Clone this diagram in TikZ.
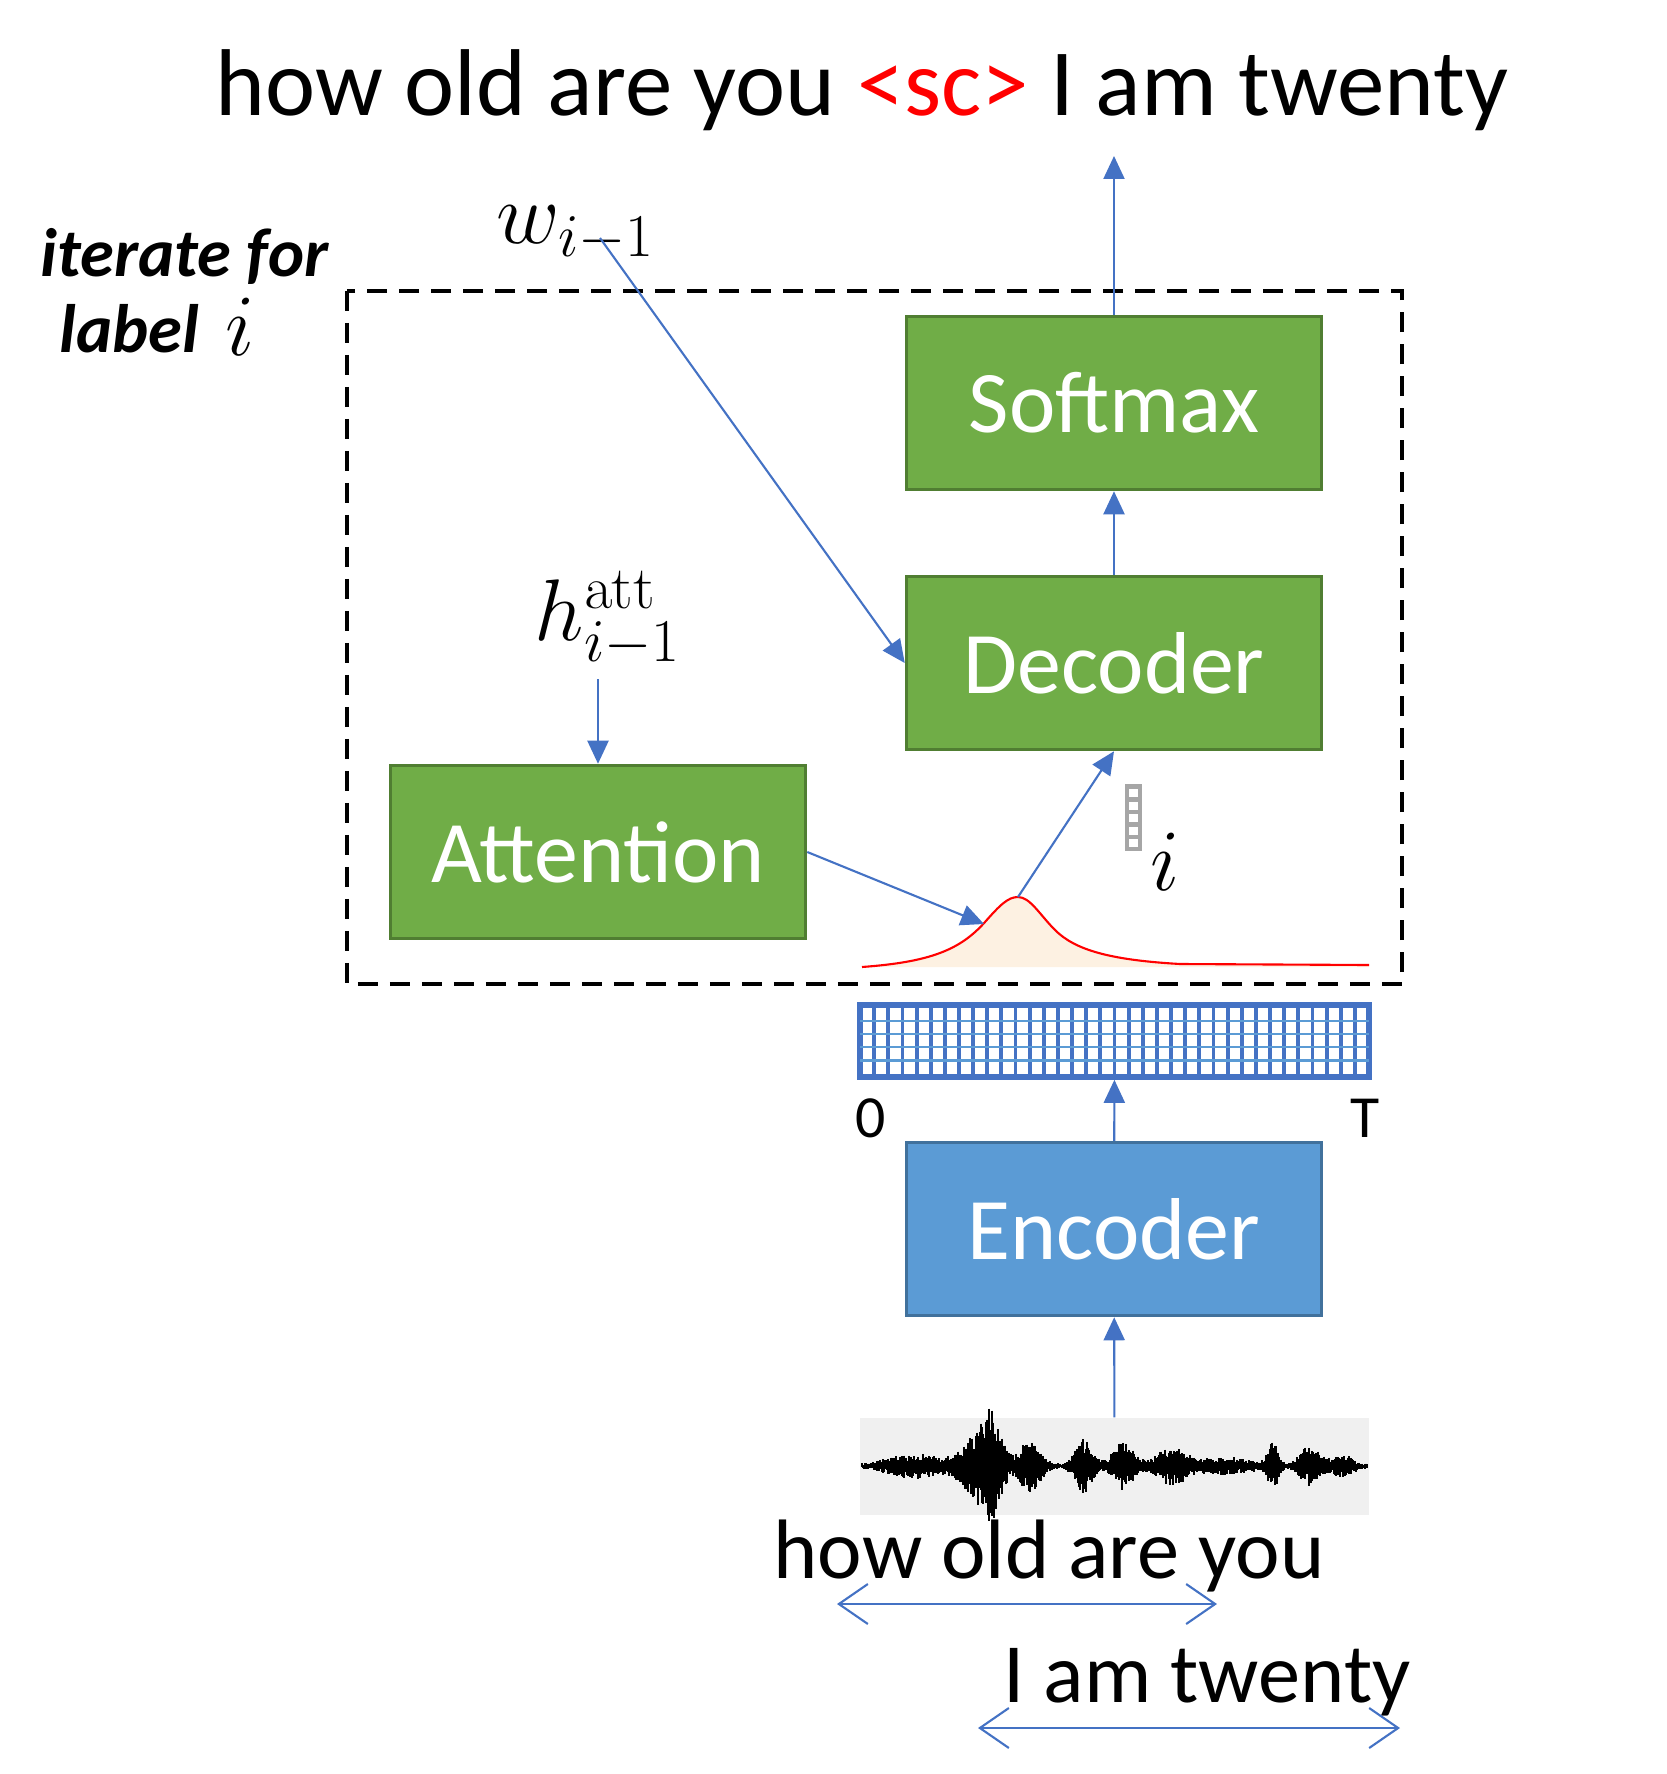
\documentclass[tikz,border=0pt]{standalone}
\usepackage[no-math]{fontspec}
\setmainfont{Carlito}
\usetikzlibrary{arrows.meta}
\definecolor{boxgreen}{HTML}{70AD47}
\definecolor{boxgreenline}{HTML}{507E32}
\definecolor{boxblue}{HTML}{5B9BD5}
\definecolor{boxblueline}{HTML}{41719C}
\definecolor{flowblue}{HTML}{4472C4}
\definecolor{peach}{HTML}{FDF1E2}
\definecolor{wavebg}{HTML}{F0F0F0}
\begin{document}
\begin{tikzpicture}[x=0.1mm,y=-0.1mm,
  greenbox/.style={draw=boxgreenline, fill=boxgreen, line width=1pt, minimum width=41.5mm, minimum height=17.3mm, text=white, font=\fontsize{25}{30}\selectfont},
  bluebox/.style={greenbox, draw=boxblueline, fill=boxblue},
  flow/.style={draw=flowblue, line width=0.6pt, -{Triangle[length=2.3mm,width=2.1mm]}},
  span/.style={draw=flowblue, line width=0.6pt, {Straight Barb[length=2.9mm,width=4mm]}-{Straight Barb[length=2.9mm,width=4mm]}},
  mathlab/.style={font=\fontsize{24}{28}\selectfont},
  bigtext/.style={font=\fontsize{24}{28}\selectfont},
  looplab/.style={anchor=base west, inner sep=0pt, font=\fontsize{19.5}{23}\selectfont\bfseries\itshape}]
\useasboundingbox (0,0) rectangle (1666,1774);

\node[anchor=base, font=\fontsize{27}{31}\selectfont] (title) at (862,116) {how old are you \textcolor{red}{<sc>} I am twenty};

\node[looplab] (iter) at (40,277) {iterate for};
\node[looplab] (lab) at (59,353) {label};
\node[anchor=base, inner sep=0pt, font=\fontsize{26}{30}\selectfont] (ilab) at (240,356) {$i$};

\draw[line width=1.1pt, dash pattern=on 2mm off 1.2mm] (347,291) rectangle (1402,984);

\node[greenbox] (softmax) at (1114,403) {Softmax};
\node[greenbox] (decoder) at (1114,663) {Decoder};
\node[greenbox] (attention) at (598,852) {Attention};
\node[bluebox] (encoder) at (1114,1229) {Encoder};

\coordinate (out) at (1114,156);
\draw[flow] (softmax.north) -- (out);
\draw[flow] (decoder) -- (softmax);

\node[mathlab] (wlab) at (576,234) {$w_{i-1}$};
\coordinate (wstart) at (600,238);
\draw[flow] (wstart) -- (decoder.west);

\node[mathlab, font=\fontsize{25}{29}\selectfont] (hatt) at (608,619) {$h^{\mathrm{att}}_{i-1}$};
\draw[flow] (hatt.south -| attention.north) -- (attention.north);

\fill[peach] (862,967) .. controls (930,962) and (960,950) .. (985,922) .. controls (1000,905) and (1008,897) .. (1018,897) .. controls (1030,897) and (1040,915) .. (1055,930) .. controls (1075,950) and (1110,960) .. (1180,964) -- (1369,965) -- (1369,967) -- cycle;
\draw[red, line width=0.6pt] (862,967) .. controls (930,962) and (960,950) .. (985,922) .. controls (1000,905) and (1008,897) .. (1018,897) .. controls (1030,897) and (1040,915) .. (1055,930) .. controls (1075,950) and (1110,960) .. (1180,964) -- (1369,965);

\coordinate (bump) at (984,924);
\coordinate (peak) at (1018,897);
\draw[flow] (attention.east) -- (bump);
\draw[flow] (peak) -- (decoder.south);

\fill[gray!70] (1125,784) rectangle (1142,851);
\foreach \k in {0,...,4} {\fill[white] (1129,789+\k*12.5) rectangle (1138,797+\k*12.5);}
\node[anchor=base, font=\fontsize{26}{30}\selectfont] (ivec) at (1165,890) {$i$};

\node[draw=flowblue, line width=1.6pt, minimum width=50.9mm, minimum height=7.2mm, inner sep=0pt] (grid) at (1114.5,1041) {};
\foreach \k in {1,...,35} {\draw[flowblue, line width=1.1pt] (860+\k*14.14,1005) -- (860+\k*14.14,1077);}
\foreach \r in {0.216,0.404,0.587,0.771} {\draw[boxblue, line width=0.6pt] (860,1005+72*\r) -- (1369,1005+72*\r);}
\node[font=\fontsize{17}{20}\selectfont] (t0) at (871,1118) {0};
\node[font=\fontsize{17}{20}\selectfont] (tT) at (1365,1118) {T};
\draw[flow] (encoder) -- (grid);

\node[fill=wavebg, minimum width=50.9mm, minimum height=9.7mm, inner sep=0pt] (wave) at (1114.5,1466.5) {};
\draw[flow] (wave) -- (encoder);
\pgfmathsetseed{7}
\foreach \x in {862,...,1367} {
  \pgfmathsetmacro\env{2+11*exp(max(-15,-((\x-915)/35)^2))+24*exp(max(-15,-((\x-975)/20)^2))+44*exp(max(-15,-((\x-992)/13)^2))+25*exp(max(-15,-((\x-1030)/14)^2))+26*exp(max(-15,-((\x-1083)/12)^2))+24*exp(max(-15,-((\x-1124)/14)^2))+18*exp(max(-15,-((\x-1172)/18)^2))+7*exp(max(-15,-((\x-1225)/35)^2))+21*exp(max(-15,-((\x-1273)/7)^2))+19*exp(max(-15,-((\x-1310)/13)^2))+10*exp(max(-15,-((\x-1342)/14)^2))}
  \pgfmathsetmacro\up{\env*(0.35+0.65*rnd)}
  \pgfmathsetmacro\dn{\env*(0.35+0.65*rnd)}
  \draw[line width=0.11mm] (\x,1466-\up) -- (\x,1466+\dn);
}

\node[anchor=base, bigtext] (q) at (1049,1578) {how old are you};
\coordinate (q0) at (837,1604);
\coordinate (q1) at (1217,1604);
\draw[span] (q0) -- (q1);
\node[anchor=base, bigtext] (a) at (1207,1702) {I am twenty};
\coordinate (a0) at (978,1728);
\coordinate (a1) at (1400,1728);
\draw[span] (a0) -- (a1);
\end{tikzpicture}
\end{document}
